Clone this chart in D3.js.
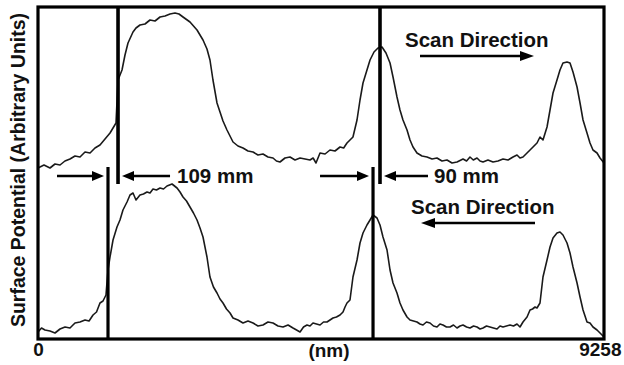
<!DOCTYPE html>
<html>
<head>
<meta charset="utf-8">
<script src="https://cdn.jsdelivr.net/npm/d3@7"></script>
<style>
  body { margin: 0; background: #fff; }
  svg { display: block; font-family: "Liberation Sans", Arial, sans-serif; }
</style>
</head>
<body>
<div id="chart"></div>
<script>
// scan length in nm, surface potential in arbitrary units
var xTicks = [0, 9258];
var xTitle = "(nm)";
var yTitle = "Surface Potential (Arbitrary Units)";

// forward scan (top trace), [nm, a.u.]
var topTrace = [[0,171],[98,174],[196,171],[278,175],[360,174],[441,178],[523,180],[605,183],[687,182],[769,187],[851,186],[932,191],[1014,194],[1096,200],[1178,206],[1276,216],[1309,259],[1374,269],[1423,284],[1472,296],[1554,307],[1603,311],[1668,314],[1750,315],[1832,319],[1914,318],[1996,322],[2078,323],[2159,325],[2241,326],[2306,325],[2372,322],[2486,317],[2601,309],[2699,299],[2764,290],[2813,279],[2862,259],[2928,236],[2977,227],[3026,218],[3091,209],[3190,197],[3271,193],[3353,191],[3435,188],[3517,187],[3598,184],[3680,185],[3762,182],[3844,181],[3900,178],[3958,177],[4040,181],[4122,182],[4204,179],[4286,181],[4368,180],[4449,179],[4500,181],[4547,176],[4613,186],[4695,185],[4776,189],[4858,188],[4940,192],[5000,191],[5054,196],[5152,202],[5218,219],[5267,239],[5316,256],[5381,269],[5431,279],[5496,287],[5561,291],[5627,292],[5692,286],[5758,276],[5807,262],[5872,242],[5921,229],[5970,219],[6036,209],[6085,199],[6134,192],[6199,186],[6281,183],[6363,182],[6445,180],[6526,181],[6608,178],[6690,179],[6772,176],[6854,177],[6952,180],[7010,178],[7066,182],[7120,179],[7181,181],[7230,178],[7279,177],[7360,179],[7442,177],[7524,178],[7606,180],[7688,179],[7770,182],[7835,184],[7884,181],[7933,182],[8048,189],[8162,196],[8211,202],[8260,199],[8326,212],[8375,229],[8424,246],[8489,259],[8538,269],[8587,276],[8653,277],[8702,276],[8751,267],[8817,252],[8866,236],[8915,219],[8980,206],[9029,196],[9078,189],[9144,186],[9193,181],[9258,176]];

// reverse scan (bottom trace), [nm, a.u.]
var bottomTrace = [[0,7],[57,11],[114,9],[196,8],[278,6],[360,10],[442,12],[523,11],[605,16],[687,17],[769,19],[835,18],[900,24],[957,27],[1014,36],[1063,38],[1112,44],[1145,69],[1178,82],[1227,99],[1292,112],[1341,119],[1390,129],[1456,137],[1505,144],[1554,146],[1603,139],[1668,144],[1725,145],[1783,147],[1832,146],[1881,150],[1938,149],[1996,151],[2053,150],[2110,153],[2192,155],[2274,151],[2323,147],[2372,142],[2429,138],[2486,132],[2543,126],[2601,119],[2650,111],[2699,102],[2764,82],[2813,62],[2870,52],[2928,46],[2977,40],[3026,36],[3083,30],[3141,26],[3190,21],[3271,19],[3353,16],[3435,18],[3517,16],[3598,13],[3680,14],[3762,17],[3844,16],[3926,13],[4008,12],[4090,14],[4171,11],[4229,9],[4286,7],[4343,12],[4400,14],[4449,13],[4498,16],[4555,15],[4613,14],[4670,17],[4727,17],[4776,19],[4825,21],[4882,22],[4940,24],[4989,27],[5022,32],[5054,36],[5103,39],[5152,62],[5218,79],[5267,96],[5316,106],[5381,114],[5431,119],[5480,124],[5545,121],[5594,114],[5643,102],[5709,89],[5758,69],[5807,56],[5872,46],[5921,36],[5970,29],[6036,22],[6085,19],[6142,18],[6199,17],[6248,15],[6297,14],[6354,17],[6412,16],[6469,13],[6526,12],[6575,15],[6624,14],[6681,12],[6739,12],[6796,14],[6854,11],[6903,13],[6952,14],[7010,12],[7066,11],[7124,13],[7181,12],[7230,10],[7279,11],[7336,13],[7393,12],[7450,11],[7508,10],[7557,13],[7606,12],[7663,13],[7721,14],[7778,13],[7835,15],[7884,12],[7933,17],[7999,22],[8048,29],[8089,30],[8130,32],[8162,31],[8211,36],[8260,62],[8326,79],[8375,92],[8424,101],[8489,106],[8538,107],[8587,104],[8653,96],[8702,86],[8751,72],[8817,56],[8866,42],[8915,29],[8980,17],[9029,16],[9078,12],[9144,9],[9193,6],[9258,2]];

// edge positions (nm) of the marker lines
var topMarks = [1309, 5594];
var bottomMarks = [1145, 5480];
var gapLabels = ["109 mm", "90 mm"];
var scanLabel = "Scan Direction";

// set the dimensions and margins of the graph
var W = 624, H = 365;
var margin = {top: 7, right: 20, bottom: 26, left: 38},
    width = W - margin.left - margin.right,
    height = H - margin.top - margin.bottom;

var svg = d3.select("#chart").append("svg")
    .attr("width", W).attr("height", H);

var x = d3.scaleLinear().domain([0, 9258]).range([margin.left, margin.left + width]);
var y = d3.scaleLinear().domain([0, 332]).range([margin.top + height, margin.top]);

var line = d3.line().x(function(d) { return x(d[0]); }).y(function(d) { return y(d[1]); });

// traces
[topTrace, bottomTrace].forEach(function(tr) {
  svg.append("path").datum(tr)
    .attr("fill", "none").attr("stroke", "#1a1a1a")
    .attr("stroke-width", 1.6).attr("stroke-linejoin", "round")
    .attr("d", line);
});

// marker lines
var yArrow = 176;
topMarks.forEach(function(m) {
  svg.append("line").attr("x1", x(m)).attr("x2", x(m))
    .attr("y1", margin.top).attr("y2", 184)
    .attr("stroke", "#000").attr("stroke-width", 3.6);
});
bottomMarks.forEach(function(m) {
  svg.append("line").attr("x1", x(m)).attr("x2", x(m))
    .attr("y1", 167).attr("y2", margin.top + height)
    .attr("stroke", "#000").attr("stroke-width", 3.2);
});

// arrow helper: tail at x1, tip at x2
function arrow(x1, x2, yy, hl, hw, sw) {
  var dir = x2 > x1 ? 1 : -1;
  svg.append("line").attr("x1", x1).attr("x2", x2 - dir * hl * 0.8)
    .attr("y1", yy).attr("y2", yy)
    .attr("stroke", "#000").attr("stroke-width", sw);
  svg.append("path")
    .attr("d", "M" + x2 + "," + yy + "L" + (x2 - dir * hl) + "," + (yy - hw / 2) +
               "L" + (x2 - dir * hl) + "," + (yy + hw / 2) + "Z")
    .attr("fill", "#000");
}

// gap arrows and labels
[0, 1].forEach(function(i) {
  var bx = x(bottomMarks[i]), tx = x(topMarks[i]);
  arrow(bx - (i ? 53 : 51), bx - 4, yArrow, 12, 10, 2.6);
  arrow(tx + (i ? 48 : 52), tx + 4, yArrow, 12, 10, 2.6);
  svg.append("text").attr("x", tx + (i ? 54 : 59)).attr("y", 183)
    .attr("font-size", 20.5).attr("font-weight", "bold").attr("fill", "#111")
    .text(gapLabels[i]);
});

// scan direction notes
svg.append("text").attr("x", 405).attr("y", 47)
  .attr("font-size", 20.5).attr("font-weight", "bold").attr("fill", "#111")
  .text(scanLabel);
arrow(420, 534, 56, 14, 10, 2.6);
svg.append("text").attr("x", 411).attr("y", 214)
  .attr("font-size", 20.5).attr("font-weight", "bold").attr("fill", "#111")
  .text(scanLabel);
arrow(535, 421, 223, 14, 10, 2.6);

// x axis ticks
var xAxis = svg.append("g")
  .attr("transform", "translate(0," + (margin.top + height) + ")")
  .call(d3.axisBottom(x).tickValues(xTicks).tickSize(0).tickPadding(4).tickFormat(d3.format("d")));
xAxis.select(".domain").remove();
xAxis.selectAll("text")
  .attr("font-size", 19).attr("font-weight", "bold").attr("fill", "#111")
  .attr("font-family", "Liberation Sans, Arial, sans-serif")
  .attr("text-anchor", function(d) { return d === 0 ? "middle" : "end"; })
  .attr("dx", function(d) { return d === 0 ? 0 : 17; });

svg.append("text").attr("x", 329).attr("y", 357)
  .attr("text-anchor", "middle").attr("font-size", 19).attr("font-weight", "bold")
  .attr("fill", "#111").text(xTitle);

svg.append("text")
  .attr("transform", "translate(25," + 170 + ") rotate(-90)")
  .attr("text-anchor", "middle").attr("font-size", 19.5).attr("font-weight", "bold")
  .attr("fill", "#111").text(yTitle);

// frame
svg.append("rect")
  .attr("x", margin.left).attr("y", margin.top)
  .attr("width", width).attr("height", height)
  .attr("fill", "none").attr("stroke", "#000").attr("stroke-width", 3.2);
</script>
</body>
</html>
